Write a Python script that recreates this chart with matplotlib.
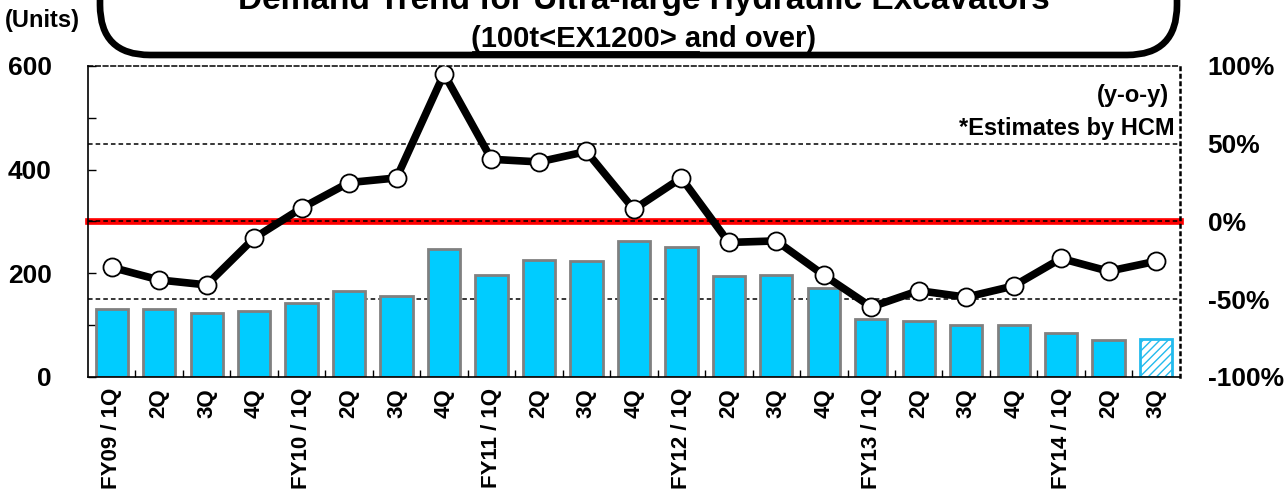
import matplotlib
matplotlib.use("Agg")
import matplotlib.pyplot as plt
from matplotlib.patches import FancyBboxPatch
from matplotlib.lines import Line2D
import numpy as np

plt.rcParams["font.family"] = ["Liberation Sans", "DejaVu Sans"]
plt.rcParams["hatch.color"] = "#33CCFF"

# ── data ────────────────────────────────────────────────────────────────
quarters = ["FY09 / 1Q", "2Q", "3Q", "4Q",
            "FY10 / 1Q", "2Q", "3Q", "4Q",
            "FY11 / 1Q", "2Q", "3Q", "4Q",
            "FY12 / 1Q", "2Q", "3Q", "4Q",
            "FY13 / 1Q", "2Q", "3Q", "4Q",
            "FY14 / 1Q", "2Q", "3Q"]
units = [132, 132, 123, 127, 142, 166, 156, 246, 197, 225, 224, 262,
         250, 194, 196, 172, 112, 107, 100, 100, 85, 71, 74]
yoy_pct = [-29.5, -37.6, -40.8, -10.7, 8.6, 25, 28, 95, 40, 38.3, 45, 7.8,
           28, -13.5, -12.5, -34.5, -55, -44.5, -48.7, -41.5, -23.8, -32, -25.6]
estimate = [False] * 22 + [True]

CYAN = "#00CCFF"

fig = plt.figure(figsize=(12.88, 4.96), dpi=100)
ax = fig.add_axes([0.0683, 0.24, 0.8477, 0.627])
ax2 = ax.twinx()

x = np.arange(len(units))

# reference lines (behind bars)
ax.axhline(300, color="#FF0000", linewidth=4.8, zorder=1, clip_on=False)
for lvl in (450, 300, 150):
    ax.axhline(lvl, color="black", linestyle=(0, (3, 2)), linewidth=1.1, zorder=1.5)

for xi, val, est in zip(x, units, estimate):
    if est:
        ax.bar(xi, val, width=0.68, facecolor="white", edgecolor="#22BBEE",
               hatch="////", linewidth=2, zorder=2)
    else:
        ax.bar(xi, val, width=0.68, facecolor=CYAN, edgecolor="#808080",
               linewidth=2, zorder=2)

ax.set_xlim(-0.5, len(units) - 0.5)
ax.set_ylim(0, 600)
ax.set_yticks([0, 200, 400, 600])
ax.set_yticks([100, 300, 500], minor=True)
ax.tick_params(axis="y", which="both", direction="in", length=6, width=1,
               labelsize=19, pad=26)
for lab in ax.get_yticklabels():
    lab.set_fontweight("bold")

ax.set_xticks(x)
ax.set_xticklabels(quarters, rotation=90, fontsize=16, fontweight="bold",
                   va="top", ha="center")
ax.set_xticks(x[:-1] + 0.5, minor=True)
ax.tick_params(axis="x", which="major", length=0, pad=8)
ax.tick_params(axis="x", which="minor", direction="in", length=5, width=1)

ax.spines["top"].set_linestyle((0, (3, 2)))
ax.spines["top"].set_linewidth(1.1)
ax.spines["right"].set_visible(False)
ax.spines["left"].set_linewidth(1.2)
ax.spines["bottom"].set_linewidth(1.2)

# y-o-y line
ax2.plot(x, yoy_pct, color="black", linewidth=5.5, marker="o", markersize=13,
         markerfacecolor="white", markeredgecolor="black", markeredgewidth=1.3,
         zorder=5)
ax2.set_ylim(-100, 100)
ax2.set_yticks([-100, -50, 0, 50, 100])
ax2.set_yticklabels(["-100%", "-50%", "0%", "50%", "100%"], fontsize=19,
                    fontweight="bold")
ax2.tick_params(axis="y", length=0, pad=20)
for s in ("left", "top", "bottom"):
    ax2.spines[s].set_visible(False)
ax2.spines["right"].set_linestyle((0, (1, 2)))
ax2.spines["right"].set_linewidth(1.8)

ax2.text(0.99, 0.905, "(y-o-y)", transform=ax.transAxes, ha="right",
         va="center", fontsize=17, fontweight="bold")
ax2.text(0.995, 0.8, "*Estimates by HCM", transform=ax.transAxes, ha="right",
         va="center", fontsize=17, fontweight="bold")

# title box
box = FancyBboxPatch((1.0, 4.41), 10.77, 1.2,
                     boxstyle="round,pad=0,rounding_size=0.5",
                     transform=fig.dpi_scale_trans, facecolor="white",
                     edgecolor="black", linewidth=4.8, clip_on=False)
fig.patches.append(box)
fig.text(0.5, 0.982, "Demand Trend for Ultra-large Hydraulic Excavators",
         ha="center", va="baseline", fontsize=24, fontweight="bold")
fig.text(0.5, 0.922, "(100t<EX1200> and over)", ha="center", va="center",
         fontsize=21, fontweight="bold")
fig.lines.append(Line2D([0.367, 0.543], [0.896, 0.896],
                        transform=fig.transFigure, color="black", linewidth=1.3))
fig.text(0.004, 0.958, "(Units)", ha="left", va="center", fontsize=17,
         fontweight="bold")

fig.savefig("out.png", dpi=100, facecolor="white")
